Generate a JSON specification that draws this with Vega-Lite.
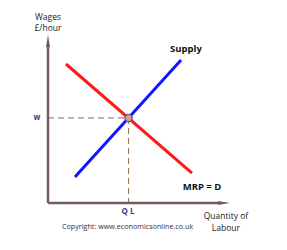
{
  "$schema": "https://vega.github.io/schema/vega-lite/v6.json",
  "width": 176,
  "height": 162,
  "autosize": "none",
  "padding": {"left": 48, "top": 41, "right": 63, "bottom": 47},
  "background": "white",
  "config": {"view": {"stroke": null}},
  "layer": [
    {
      "data": {"values": [
        {"x": 0, "y": 5.25, "x2": 4.58, "y2": 5.25},
        {"x": 4.58, "y": 5.25, "x2": 4.58, "y2": 0}
      ]},
      "mark": {"type": "rule", "color": "#8a6a4c", "strokeWidth": 1, "strokeDash": [6, 4], "clip": false},
      "encoding": {
        "x": {"field": "x", "type": "quantitative", "scale": {"domain": [0, 10], "nice": false, "zero": false}, "axis": null},
        "y": {"field": "y", "type": "quantitative", "scale": {"domain": [0, 10], "nice": false, "zero": false}, "axis": null},
        "x2": {"field": "x2"},
        "y2": {"field": "y2"}
      }
    },
    {
      "data": {"values": [
        {"x": 0, "y": 0, "x2": 9.7, "y2": 0},
        {"x": 0, "y": 0, "x2": 0, "y2": 9.7}
      ]},
      "mark": {"type": "rule", "color": "#765a5c", "strokeWidth": 2.5, "clip": false},
      "encoding": {
        "x": {"field": "x", "type": "quantitative"},
        "y": {"field": "y", "type": "quantitative"},
        "x2": {"field": "x2"},
        "y2": {"field": "y2"}
      }
    },
    {
      "data": {"values": [{"x": 0, "y": 10}]},
      "mark": {"type": "point", "shape": "M-0.35,1L0,-1L0.35,1Z", "size": 144, "filled": true, "color": "#765a5c", "opacity": 1, "clip": false},
      "encoding": {
        "x": {"field": "x", "type": "quantitative"},
        "y": {"field": "y", "type": "quantitative"}
      }
    },
    {
      "data": {"values": [{"x": 10, "y": 0}]},
      "mark": {"type": "point", "shape": "M-1,-0.35L1,0L-1,0.35Z", "size": 144, "filled": true, "color": "#765a5c", "opacity": 1, "clip": false},
      "encoding": {
        "x": {"field": "x", "type": "quantitative"},
        "y": {"field": "y", "type": "quantitative"}
      }
    },
    {
      "data": {"values": [
        {"curve": "MRP", "x": 1.02, "y": 8.58},
        {"curve": "MRP", "x": 8.18, "y": 1.85}
      ]},
      "mark": {"type": "line", "color": "#ff1a1a", "strokeWidth": 3, "clip": false},
      "encoding": {
        "x": {"field": "x", "type": "quantitative"},
        "y": {"field": "y", "type": "quantitative"}
      }
    },
    {
      "data": {"values": [
        {"curve": "Supply", "x": 1.53, "y": 1.6},
        {"curve": "Supply", "x": 7.56, "y": 8.83}
      ]},
      "mark": {"type": "line", "color": "#1414ff", "strokeWidth": 3, "clip": false},
      "encoding": {
        "x": {"field": "x", "type": "quantitative"},
        "y": {"field": "y", "type": "quantitative"}
      }
    },
    {
      "data": {"values": [{"x": 4.58, "y": 5.25}]},
      "mark": {"type": "point", "size": 55, "filled": true, "fill": "#dfa06e", "stroke": "#4a4ad0", "strokeWidth": 1.2, "opacity": 1, "clip": false},
      "encoding": {
        "x": {"field": "x", "type": "quantitative"},
        "y": {"field": "y", "type": "quantitative"}
      }
    },
    {
      "data": {"values": [
        {"label": "Supply", "x": 7.84, "y": 9.51},
        {"label": "MRP = D", "x": 8.75, "y": 0.99}
      ]},
      "mark": {"type": "text", "font": "Open Sans", "fontSize": 9.5, "fontWeight": "bold", "color": "#111111", "align": "center", "baseline": "middle", "clip": false},
      "encoding": {
        "x": {"field": "x", "type": "quantitative"},
        "y": {"field": "y", "type": "quantitative"},
        "text": {"field": "label"}
      }
    },
    {
      "data": {"values": [
        {"label": "w", "x": -0.63, "y": 5.25},
        {"label": "Q L", "x": 4.55, "y": -0.56}
      ]},
      "mark": {"type": "text", "font": "Open Sans", "fontSize": 8, "fontWeight": "bold", "color": "#3a3a8c", "align": "center", "baseline": "middle", "clip": false},
      "encoding": {
        "x": {"field": "x", "type": "quantitative"},
        "y": {"field": "y", "type": "quantitative"},
        "text": {"field": "label"}
      }
    },
    {
      "data": {"values": [
        {"label": "Wages", "x": 0, "y": 11.48},
        {"label": "£/hour", "x": 0, "y": 10.8},
        {"label": "Quantity of", "x": 10.11, "y": -0.8},
        {"label": "Labour", "x": 10.11, "y": -1.54}
      ]},
      "mark": {"type": "text", "font": "Open Sans", "fontSize": 8.5, "color": "#222222", "align": "center", "baseline": "middle", "clip": false},
      "encoding": {
        "x": {"field": "x", "type": "quantitative"},
        "y": {"field": "y", "type": "quantitative"},
        "text": {"field": "label"}
      }
    },
    {
      "data": {"values": [
        {"label": "Copyright: www.economicsonline.co.uk", "x": 4.52, "y": -1.48}
      ]},
      "mark": {"type": "text", "font": "Open Sans", "fontSize": 7.2, "color": "#333333", "align": "center", "baseline": "middle", "clip": false},
      "encoding": {
        "x": {"field": "x", "type": "quantitative"},
        "y": {"field": "y", "type": "quantitative"},
        "text": {"field": "label"}
      }
    }
  ]
}
